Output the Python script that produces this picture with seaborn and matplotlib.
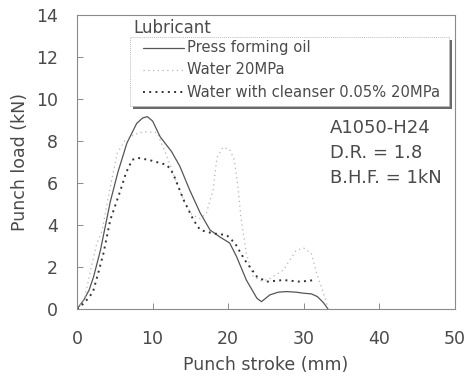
import numpy as np
import pandas as pd
import matplotlib
matplotlib.use("Agg")
import matplotlib.pyplot as plt
from matplotlib.patches import Rectangle
from matplotlib.lines import Line2D
import seaborn as sns

# Punch load vs punch stroke for three lubricants (A1050-H24 deep drawing)
oil_stroke = [0, 0.9, 1.6, 2.2, 3.1, 4.4, 5.4, 6.6, 7.9, 8.7, 9.3, 10.0, 11.0, 12.5,
              13.6, 14.9, 16.3, 17.6, 18.9, 20.2, 21.1, 22.4, 23.8, 24.4, 25.5, 26.6,
              27.7, 29.0, 30.0, 31.0, 31.8, 32.6, 33.2]
oil_load = [0, 0.43, 0.9, 1.54, 2.8, 5.1, 6.5, 7.9, 8.84, 9.1, 9.16, 8.95, 8.2, 7.5,
            6.8, 5.67, 4.57, 3.76, 3.43, 3.14, 2.5, 1.38, 0.51, 0.35, 0.67, 0.8,
            0.83, 0.8, 0.75, 0.72, 0.59, 0.3, 0.0]

water_stroke = [0, 1.0, 1.8, 2.6, 3.3, 4.4, 5.3, 6.3, 7.5, 8.8, 10.6, 11.9, 13.2, 14.2,
                15.2, 16.3, 17.1, 18.0, 18.5, 19.3, 20.2, 20.8, 21.3, 21.7, 22.4, 23.3,
                24.3, 25.3, 27.3, 29.0, 30.0, 31.0, 31.7, 32.6, 33.2]
water_load = [0, 0.5, 1.86, 3.1, 3.7, 5.8, 7.4, 8.0, 8.3, 8.44, 8.4, 7.25, 6.0, 5.1,
              4.5, 4.3, 4.55, 5.67, 7.2, 7.7, 7.6, 7.1, 5.8, 4.3, 2.65, 1.55,
              1.35, 1.4, 1.86, 2.8, 2.9, 2.65, 1.7, 0.75, 0.05]

cleanser_stroke = [0, 1.0, 2.1, 2.8, 3.5, 4.4, 5.7, 6.5, 7.3, 8.0, 9.5, 10.5, 11.9, 12.7,
                   14.1, 15.4, 16.3, 18.0, 19.8, 20.9, 22.2, 23.8, 25.1, 27.3, 29.5, 31.5]
cleanser_load = [0, 0.3, 0.8, 1.7, 2.65, 4.24, 5.6, 6.5, 7.1, 7.2, 7.1, 7.0, 6.86, 6.46,
                 5.2, 4.24, 3.76, 3.6, 3.52, 3.13, 2.33, 1.54, 1.3, 1.38, 1.3, 1.38]

labels = ["Press forming oil", "Water 20MPa", "Water with cleanser 0.05% 20MPa"]
x_ticks = [0, 10, 20, 30, 40, 50]
y_ticks = [0, 2, 4, 6, 8, 10, 12, 14]
notes = ["A1050-H24", "D.R. = 1.8", "B.H.F. = 1kN"]

sns.set_style("ticks")
plt.rcParams["font.family"] = ["DejaVu Sans"]

text_c = "#4a4a4a"
spine_c = "#8a8a8a"

fig = plt.figure(figsize=(4.7, 3.8), dpi=100)
ax = fig.add_axes([77 / 470, 71 / 380, 378 / 470, 294 / 380])

styles = [
    dict(color="#555555", linewidth=0.9, linestyle="-"),
    dict(color="#b4b4b4", linewidth=0.9, linestyle=(0, (1, 2.8))),
    dict(color="#333333", linewidth=1.4, linestyle=(0, (1, 2.2))),
]
series = [(oil_stroke, oil_load), (water_stroke, water_load), (cleanser_stroke, cleanser_load)]
for (xs, ys), st in zip(series, styles):
    df = pd.DataFrame({"stroke": xs, "load": ys})
    sns.lineplot(data=df, x="stroke", y="load", ax=ax, sort=False, estimator=None, **st)

ax.set_xlim(0, 50)
ax.set_ylim(0, 14)
ax.set_xticks(x_ticks)
ax.set_yticks(y_ticks)
ax.tick_params(direction="in", length=4, width=0.7, colors=spine_c,
               labelcolor=text_c, labelsize=12.5)
ax.tick_params(axis="x", pad=15)
ax.tick_params(axis="y", pad=13.5)
for s in ax.spines.values():
    s.set_visible(True)
    s.set_color(spine_c)
    s.set_linewidth(0.8)
ax.set_xlabel("Punch stroke (mm)", fontsize=12.5, color=text_c, labelpad=6)
ax.set_ylabel("Punch load (kN)", fontsize=12.5, color=text_c, labelpad=5)

# Lubricant key: framed box with a drop shadow, heading sitting above it
bx0, bx1, by0, by1 = 0.140, 0.985, 0.690, 0.925
ax.add_patch(Rectangle((bx0 + 0.008, by0 - 0.010), bx1 - bx0, by1 - by0,
                       transform=ax.transAxes, facecolor="#6a6a6a",
                       edgecolor="none", zorder=5))
ax.add_patch(Rectangle((bx0, by0), bx1 - bx0, by1 - by0, transform=ax.transAxes,
                       facecolor="white", edgecolor="#bdbdbd", linewidth=0.7,
                       linestyle=(0, (1, 1)), zorder=6))
ax.text(0.148, 0.956, "Lubricant", transform=ax.transAxes, fontsize=12,
        color=text_c, va="center", ha="left", zorder=7)
for lab, st, yy in zip(labels, styles, [0.888, 0.813, 0.738]):
    ax.add_line(Line2D([0.175, 0.282], [yy, yy], transform=ax.transAxes,
                       zorder=7, **st))
    ax.text(0.291, yy, lab, transform=ax.transAxes, fontsize=10.6, color=text_c,
            va="center", ha="left", zorder=7)

for note, yy in zip(notes, [0.616, 0.531, 0.446]):
    ax.text(0.669, yy, note, transform=ax.transAxes, fontsize=13, color=text_c,
            va="center", ha="left")

fig.savefig("out.png", dpi=100)
